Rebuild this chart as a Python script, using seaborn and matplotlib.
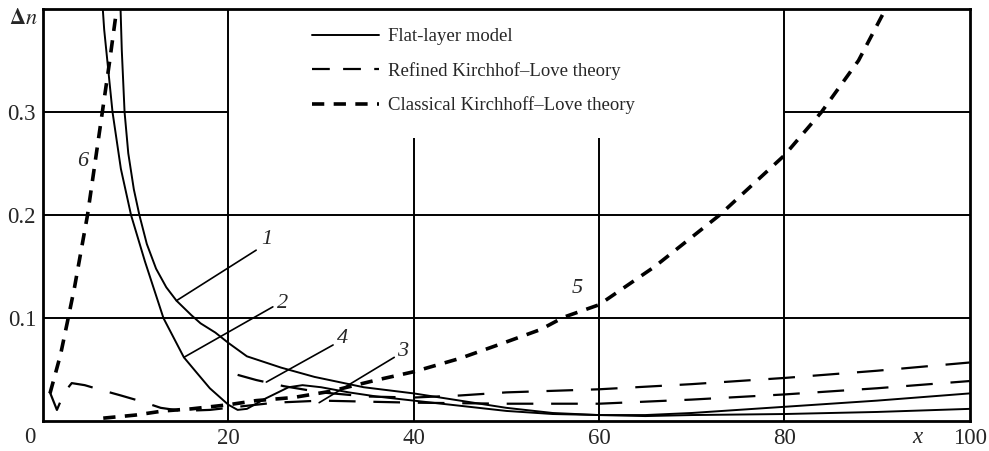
import matplotlib
matplotlib.use("Agg")
import matplotlib.pyplot as plt
import seaborn as sns
import pandas as pd
from matplotlib.lines import Line2D

# ---- data ----
# Curve 1 (flat-layer model)
c1_x = [8.3, 8.5, 8.8, 9.2, 9.8, 10.4, 11.2, 12.2, 13.3, 14.4, 16.0, 17.0, 18.6, 20.0, 22.0,
        25.7, 29.3, 34.6, 40.0, 45.0, 50.0, 55.0, 60.0, 65.0, 70.0, 80.0, 90.0, 100.0]
c1_y = [0.42, 0.36, 0.30, 0.26, 0.225, 0.20, 0.172, 0.148, 0.13, 0.117, 0.103, 0.095, 0.086,
        0.076, 0.063, 0.052, 0.043, 0.033, 0.027, 0.020, 0.013, 0.008, 0.006, 0.006, 0.008,
        0.014, 0.020, 0.027]
# Curve 2 (flat-layer model)
c2_x = [6.3, 6.6, 7.5, 8.4, 9.5, 11.0, 13.0, 15.2, 16.5, 18.0, 20.0, 21.0, 22.0, 24.0, 26.5,
        28.0, 30.0, 33.0, 36.0, 40.0, 45.0, 50.0, 55.0, 60.0, 65.0, 70.0, 80.0, 90.0, 100.0]
c2_y = [0.42, 0.38, 0.30, 0.245, 0.20, 0.155, 0.10, 0.062, 0.048, 0.032, 0.016, 0.011, 0.012,
        0.022, 0.033, 0.035, 0.033, 0.028, 0.024, 0.020, 0.015, 0.010, 0.007, 0.006, 0.005,
        0.006, 0.007, 0.009, 0.012]
# Curve 3 (refined Kirchhoff-Love)
c3_x = [0.75, 1.5, 2.3, 3.1, 4.5, 6.4, 8.4, 10.7, 12.7, 15.0, 18.0, 21.0, 25.0, 30.0, 35.0,
        40.0, 50.0, 60.0, 70.0, 80.0, 90.0, 100.0]
c3_y = [0.028, 0.011, 0.028, 0.037, 0.035, 0.030, 0.025, 0.019, 0.013, 0.010, 0.011, 0.014,
        0.018, 0.020, 0.019, 0.018, 0.017, 0.017, 0.021, 0.026, 0.032, 0.039]
# Curve 4 (refined Kirchhoff-Love)
c4_x = [21.0, 23.0, 26.0, 30.0, 35.0, 40.0, 45.0, 50.0, 60.0, 70.0, 80.0, 90.0, 100.0]
c4_y = [0.045, 0.040, 0.034, 0.028, 0.024, 0.023, 0.025, 0.028, 0.031, 0.036, 0.042, 0.049, 0.057]
# Curve 5 (classical Kirchhoff-Love)
c5_x = [6.5, 10.0, 13.0, 16.0, 20.0, 23.0, 27.0, 31.0, 36.0, 40.0, 45.0, 49.4, 53.7, 56.2,
        60.0, 66.0, 73.0, 80.0, 84.0, 88.0, 91.5]
c5_y = [0.003, 0.006, 0.010, 0.012, 0.016, 0.020, 0.023, 0.029, 0.040, 0.048, 0.061, 0.075,
        0.089, 0.101, 0.113, 0.150, 0.200, 0.258, 0.300, 0.350, 0.41]
# Curve 6 (classical Kirchhoff-Love)
c6_x = [0.75, 1.3, 1.9, 2.6, 3.4, 4.2, 4.8, 5.6, 6.4, 7.2, 8.1]
c6_y = [0.027, 0.045, 0.065, 0.095, 0.130, 0.170, 0.200, 0.250, 0.300, 0.350, 0.41]

legend_labels = ["Flat-layer model", "Refined Kirchhof\u2013Love theory",
                 "Classical Kirchhoff\u2013Love theory"]
x_ticks = [20, 40, 60, 80, 100]
y_ticks = [0.1, 0.2, 0.3]
curve_labels = ["1", "2", "3", "4", "5", "6"]

# ---- styling ----
sns.set_style("white")
plt.rcParams['font.family'] = ['Liberation Serif', 'DejaVu Serif']
plt.rcParams['mathtext.fontset'] = 'stix'

fig = plt.figure(figsize=(9.89, 4.51), dpi=100)
ax = fig.add_axes([0.0435, 0.066, 0.937, 0.914])
ax.set_xlim(0, 100)
ax.set_ylim(0, 0.40)

# grid (with blank legend region)
gl = dict(color='black', lw=1.4, zorder=1)
ax.vlines([20, 80], 0, 0.40, **gl)
ax.vlines([40, 60], 0, 0.275, **gl)
ax.hlines([0.1, 0.2], 0, 100, **gl)
ax.hlines([0.3, 0.3], [0, 80], [20, 100], **gl)

solid = dict(color='black', lw=1.4)
refined = dict(color='black', lw=1.6, dashes=(12, 8))
classic = dict(color='black', lw=2.6, dashes=(3.4, 2.6))

for xs, ys, st in [(c1_x, c1_y, solid), (c2_x, c2_y, solid),
                   (c3_x, c3_y, refined), (c4_x, c4_y, refined),
                   (c5_x, c5_y, classic), (c6_x, c6_y, classic)]:
    df = pd.DataFrame({"x": xs, "y": ys})
    kw = dict(st)
    dashes = kw.pop('dashes', None)
    sns.lineplot(data=df, x="x", y="y", ax=ax, sort=False, estimator=None, **kw)
    if dashes is not None:
        ax.lines[-1].set_dashes(dashes)
    ax.lines[-1].set_zorder(3)

# legend
h1 = Line2D([], [], color='black', lw=1.4)
h2 = Line2D([], [], color='black', lw=1.6, dashes=(8, 6))
h3 = Line2D([], [], color='black', lw=2.6, dashes=(3.4, 2.6))
ax.legend([h1, h2, h3], legend_labels, loc='upper left', bbox_to_anchor=(0.272, 0.994),
          frameon=False, fontsize=13.5, handlelength=3.6, handletextpad=0.45,
          labelspacing=0.88)

# leader lines and curve numbers
lead = dict(color='black', lw=1.2, zorder=3)
ax.plot([14.4, 23.0], [0.117, 0.166], **lead)
ax.plot([15.2, 24.8], [0.062, 0.111], **lead)
ax.plot([24.1, 31.3], [0.038, 0.074], **lead)
ax.plot([29.8, 37.9], [0.018, 0.062], **lead)
lab_kw = dict(fontsize=16, style='italic', ha='center', va='center')
ax.text(24.1, 0.176, curve_labels[0], **lab_kw)
ax.text(25.8, 0.114, curve_labels[1], **lab_kw)
ax.text(38.8, 0.068, curve_labels[2], **lab_kw)
ax.text(32.3, 0.080, curve_labels[3], **lab_kw)
ax.text(57.6, 0.129, curve_labels[4], **lab_kw)
ax.text(4.3, 0.252, curve_labels[5], **lab_kw)

# ticks
ax.set_xticks(x_ticks)
ax.set_xticklabels([str(t) for t in x_ticks])
ax.set_yticks(y_ticks)
ax.set_yticklabels([f"{t:.1f}" for t in y_ticks])
ax.tick_params(length=0, labelsize=16.5, pad=5)
ax.set_xlabel("")
ax.set_ylabel("")
for s in ax.spines.values():
    s.set_color('black')
    s.set_linewidth(2.0)
    s.set_zorder(4)

ax.text(-0.014, -0.015, "0", transform=ax.transAxes, ha='center', va='top', fontsize=16.5)
ax.text(0.944, -0.015, "x", transform=ax.transAxes, ha='center', va='top', fontsize=16.5,
        style='italic')
fig.text(0.024, 0.958, r"$\mathbf{\Delta}\mathit{n}$", ha='center', va='center', fontsize=16)

fig.savefig("out.png", dpi=100)
